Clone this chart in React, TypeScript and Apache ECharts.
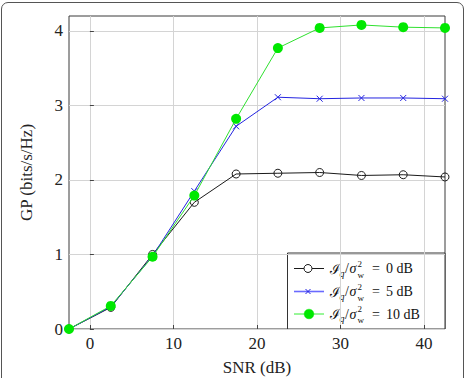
import React, { useEffect, useRef } from "react";
import * as echarts from "echarts";

// SNR sweep points (dB) and goodput for each interference-to-noise level
const snrDb = [-2.5, 2.5, 7.5, 12.5, 17.5, 22.5, 27.5, 32.5, 37.5, 42.5];
const gp0dB = [0, 0.29, 1.0, 1.7, 2.08, 2.09, 2.1, 2.06, 2.07, 2.04];
const gp5dB = [0, 0.3, 0.98, 1.85, 2.72, 3.11, 3.09, 3.1, 3.1, 3.09];
const gp10dB = [0, 0.31, 0.97, 1.79, 2.82, 3.77, 4.04, 4.08, 4.05, 4.04];

const xTicks = [0, 10, 20, 30, 40];
const yTicks = [0, 1, 2, 3, 4];
const levelLabels = ["0", "5", "10"];

const SERIF = "Liberation Serif";
const SCRIPT = "DejaVu Serif";
const BLACK = "#1a1a1a";
const BLUE = "#2424e0";
const GREEN = "#00e800";

function pairs(ys: number[]) {
  return snrDb.map((x, i) => [x, ys[i]]);
}

function legendGraphic() {
  const rows = [268.5, 291.5, 314];
  const children: any[] = [
    {
      type: "rect",
      shape: { x: 287.5, y: 253, width: 157.5, height: 76 },
      style: { fill: "#fff", stroke: "#333", lineWidth: 1 },
    },
  ];
  rows.forEach((y, i) => {
    const color = [BLACK, "#6a6aff", "#33ee33"][i];
    children.push({
      type: "line",
      shape: { x1: 294, y1: y, x2: 324, y2: y },
      style: { stroke: color, lineWidth: i === 1 ? 1.6 : 1 },
    });
    if (i === 0) {
      children.push({
        type: "circle",
        shape: { cx: 308, cy: y, r: 4 },
        style: { fill: "#fff", stroke: BLACK, lineWidth: 1 },
      });
    } else if (i === 1) {
      children.push(
        { type: "line", shape: { x1: 305.5, y1: y - 2.5, x2: 310.5, y2: y + 2.5 }, style: { stroke: BLUE, lineWidth: 1 } },
        { type: "line", shape: { x1: 305.5, y1: y + 2.5, x2: 310.5, y2: y - 2.5 }, style: { stroke: BLUE, lineWidth: 1 } }
      );
    } else {
      children.push({
        type: "circle",
        shape: { cx: 309, cy: y, r: 4.8 },
        style: { fill: GREEN, stroke: GREEN, lineWidth: 0.5 },
      });
    }
    const t = (
      text: string,
      x: number,
      yy: number,
      size: number,
      italic: boolean,
      vAlign: string,
      family = SERIF
    ) => ({
      type: "text",
      style: {
        text,
        x,
        y: yy,
        font: `${italic ? "italic " : ""}${size}px ${family}`,
        lineHeight: size,
        fill: "#111",
        align: "left",
        verticalAlign: vAlign,
      },
    });
    children.push(
      t("\u2110", 330, y, 14, false, "middle", SCRIPT),
      t("q", 339.5, y - 0.5, 10, true, "top"),
      t("/", 345, y, 14, false, "middle"),
      t("\u03c3", 349.5, y, 14, true, "middle"),
      t("2", 357.5, y - 0.5, 9, false, "bottom"),
      t("w", 357.5, y + 1.5, 9, false, "top"),
      t("=", 372, y, 14, false, "middle"),
      t(levelLabels[i] + " dB", 386, y, 14, false, "middle")
    );
  });
  return { type: "group", children };
}

export default function App() {
  const ref = useRef<HTMLDivElement>(null);

  useEffect(() => {
    document.body.style.margin = "0";
    if (!ref.current) return;
    const chart = echarts.init(ref.current, null, { renderer: "svg" });
    const labelStyle = { fontFamily: SERIF, fontSize: 17, color: "#222" };
    chart.setOption({
      animation: false,
      backgroundColor: "#fff",
      grid: {
        left: 69,
        right: 21,
        top: 16,
        bottom: 49,
        outerBoundsMode: "none",
        containLabel: false,
        show: true,
        borderColor: "#3a3a3a",
        borderWidth: 1,
        backgroundColor: "transparent",
      },
      xAxis: {
        type: "value",
        min: -2.5,
        max: 42.5,
        name: "SNR (dB)",
        nameLocation: "middle",
        nameGap: 30,
        nameTextStyle: { fontFamily: SERIF, fontSize: 17, color: "#222" },
        axisLine: { show: false },
        axisTick: { show: true, inside: true, length: 4, customValues: xTicks, lineStyle: { color: "#444" } },
        axisLabel: { ...labelStyle, margin: 6, customValues: xTicks },
        splitLine: { show: true, lineStyle: { color: "#d4d4d4", width: 1 } },
      },
      yAxis: {
        type: "value",
        min: 0,
        max: 4.2,
        name: "GP (bits/s/Hz)",
        nameLocation: "middle",
        nameGap: 34,
        nameTextStyle: { fontFamily: SERIF, fontSize: 17, color: "#222" },
        axisLine: { show: false },
        axisTick: { show: true, inside: true, length: 4, customValues: yTicks, lineStyle: { color: "#444" } },
        axisLabel: { ...labelStyle, margin: 6, customValues: yTicks },
        splitLine: { show: true, lineStyle: { color: "#d4d4d4", width: 1 } },
      },
      series: [
        {
          type: "line",
          data: pairs(gp0dB),
          symbol: "circle",
          symbolSize: 8,
          lineStyle: { color: BLACK, width: 1 },
          itemStyle: { color: "rgba(255,255,255,0)", borderColor: BLACK, borderWidth: 1 },
          z: 2,
        },
        {
          type: "line",
          data: pairs(gp5dB),
          symbol: "path://M0,0L10,10M10,0L0,10",
          symbolSize: 6,
          lineStyle: { color: BLUE, width: 1 },
          itemStyle: { color: "none", borderColor: BLUE, borderWidth: 1 },
          z: 3,
        },
        {
          type: "line",
          data: pairs(gp10dB),
          symbol: "circle",
          symbolSize: 10,
          lineStyle: { color: "#2fe02f", width: 1 },
          itemStyle: { color: GREEN },
          z: 4,
        },
      ],
      graphic: { elements: [legendGraphic()] },
    });
    return () => chart.dispose();
  }, []);

  return (
    <div style={{ position: "relative", width: 466, height: 378, overflow: "hidden" }}>
      <style>{"body{margin:0}"}</style>
      <div ref={ref} style={{ position: "absolute", left: 0, top: 0, width: 466, height: 378 }} />
      <div
        style={{
          position: "absolute",
          left: 1,
          top: 2,
          width: 461,
          height: 420,
          border: "1.5px solid #555",
          borderRadius: 7,
          pointerEvents: "none",
        }}
      />
    </div>
  );
}
